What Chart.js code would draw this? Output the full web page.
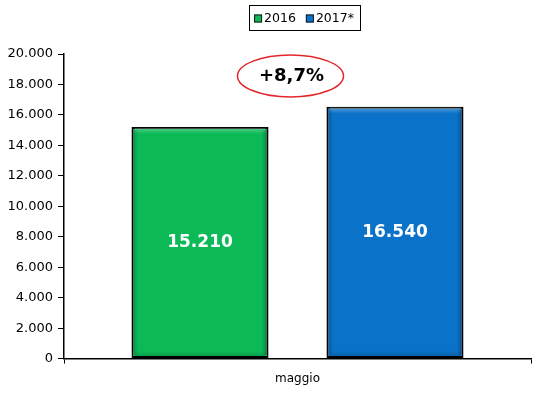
<!DOCTYPE html>
<html>
<head>
<meta charset="utf-8">
<script src="https://cdn.jsdelivr.net/npm/chart.js@4"></script>
<style>
  html, body { margin: 0; padding: 0; background: #fff; }
  #wrap { width: 538px; height: 402px; }
</style>
</head>
<body>
<div id="wrap"><canvas id="chart"></canvas></div>
<script>
const categories = ["maggio"];
const seriesNames = ["2016", "2017*"];
const values2016 = [15210];
const values2017 = [16540];
const seriesColors = ["#0bba57", "#0a72c8"];
const yTicks = [0, 2000, 4000, 6000, 8000, 10000, 12000, 14000, 16000, 18000, 20000];

const FONT = "'DejaVu Sans', Verdana, sans-serif";

function fmt(n) {
  return String(n).replace(/\B(?=(\d{3})+(?!\d))/g, ".");
}

// legend with a frame, drawn at the top centre
const legendBox = {
  id: "legendBox",
  afterDraw(chart) {
    const ctx = chart.ctx;
    ctx.save();
    ctx.font = "12.5px " + FONT;
    const sets = chart.data.datasets;
    const widths = sets.map((d) => 9 + 2 + ctx.measureText(d.label).width);
    const gap = 9;
    const inner = widths.reduce((a, b) => a + b, 0) + gap * (sets.length - 1);
    const boxW = 111, boxH = 25;
    const left = 249, top = 5;
    ctx.strokeStyle = "#000";
    ctx.lineWidth = 1;
    ctx.strokeRect(left + 0.5, top + 0.5, boxW, boxH);
    let x = left + (boxW - inner) / 2;
    const cy = top + boxH / 2 + 1;
    sets.forEach((d, i) => {
      ctx.fillStyle = d.backgroundColor;
      ctx.fillRect(x, cy - 4, 8, 8);
      ctx.strokeStyle = "#1a1a1a";
      ctx.strokeRect(x + 0.5, cy - 3.5, 7, 7);
      ctx.fillStyle = "#000";
      ctx.textBaseline = "middle";
      ctx.fillText(d.label, x + 10, cy);
      x += widths[i] + gap;
    });
    ctx.restore();
  }
};

// bevelled look on the bars plus the white value in the middle
const barDecor = {
  id: "barDecor",
  afterDatasetsDraw(chart) {
    const ctx = chart.ctx;
    ctx.save();
    chart.data.datasets.forEach((d, di) => {
      chart.getDatasetMeta(di).data.forEach((bar, i) => {
        const l = bar.x - bar.width / 2 + 1;
        const r = bar.x + bar.width / 2 - 1;
        const t = bar.y + 1;
        const b = bar.base - 1;
        const s = 6;
        let g = ctx.createLinearGradient(0, t, 0, t + s);
        g.addColorStop(0, "rgba(255,255,255,0.3)");
        g.addColorStop(1, "rgba(255,255,255,0)");
        ctx.fillStyle = g;
        ctx.fillRect(l + 2, t, r - l - 4, s);
        g = ctx.createLinearGradient(l, 0, l + s, 0);
        g.addColorStop(0, "rgba(0,0,0,0.22)");
        g.addColorStop(1, "rgba(0,0,0,0)");
        ctx.fillStyle = g;
        ctx.fillRect(l, t + 2, s, b - t - 4);
        g = ctx.createLinearGradient(r, 0, r - s, 0);
        g.addColorStop(0, "rgba(0,0,0,0.3)");
        g.addColorStop(1, "rgba(0,0,0,0)");
        ctx.fillStyle = g;
        ctx.fillRect(r - s, t + 2, s, b - t - 4);
        g = ctx.createLinearGradient(0, b, 0, b - s);
        g.addColorStop(0, "rgba(0,0,0,0.18)");
        g.addColorStop(1, "rgba(0,0,0,0)");
        ctx.fillStyle = g;
        ctx.fillRect(l + 2, b - s, r - l - 4, s);

        ctx.fillStyle = "#fff";
        ctx.font = "bold 17px " + FONT;
        ctx.textAlign = "center";
        ctx.textBaseline = "middle";
        ctx.fillText(fmt(d.data[i]), bar.x, (bar.y + bar.base) / 2);
      });
    });
    ctx.restore();
  }
};

// red ellipse with the growth rate
const growthNote = {
  id: "growthNote",
  afterDraw(chart) {
    const ctx = chart.ctx;
    const pct = (values2017[0] / values2016[0] - 1) * 100;
    const text = "+" + pct.toFixed(1).replace(".", ",") + "%";
    const cx = chart.scales.x.getPixelForValue(0) - 7;
    const cy = chart.scales.y.getPixelForValue(18560);
    ctx.save();
    ctx.beginPath();
    ctx.ellipse(cx, cy, 53, 21, 0, 0, Math.PI * 2);
    ctx.strokeStyle = "#e3262b";
    ctx.lineWidth = 1.5;
    ctx.stroke();
    ctx.fillStyle = "#000";
    ctx.font = "bold 18px " + FONT;
    ctx.textAlign = "center";
    ctx.textBaseline = "middle";
    ctx.fillText(text, cx + 1, cy);
    ctx.restore();
  }
};

new Chart(document.getElementById("chart"), {
  type: "bar",
  data: {
    labels: categories,
    datasets: [
      { label: seriesNames[0], data: values2016, backgroundColor: seriesColors[0] },
      { label: seriesNames[1], data: values2017, backgroundColor: seriesColors[1] }
    ].map((d) => ({
      ...d,
      borderColor: "#000",
      borderWidth: 2,
      borderSkipped: false,
      categoryPercentage: 0.835,
      barPercentage: 0.703
    }))
  },
  options: {
    responsive: true,
    maintainAspectRatio: false,
    animation: false,
    layout: { padding: { top: 54, left: 4, right: 7, bottom: 8 } },
    plugins: {
      legend: { display: false },
      tooltip: { enabled: false }
    },
    scales: {
      x: {
        grid: { drawOnChartArea: false, color: "#000", tickLength: 5 },
        border: { color: "#000", width: 1.5 },
        ticks: { color: "#000", font: { family: FONT, size: 12 }, padding: 8 }
      },
      y: {
        min: 0,
        max: 20000,
        afterBuildTicks: (scale) => {
          scale.ticks = yTicks.map((v) => ({ value: v }));
        },
        afterFit: (scale) => {
          scale.width = 60;
        },
        grid: { drawOnChartArea: false, color: "#000", tickLength: 6 },
        border: { color: "#000", width: 1.5 },
        ticks: {
          color: "#000",
          font: { family: FONT, size: 13 },
          padding: 5,
          callback: (v) => fmt(v)
        }
      }
    }
  },
  plugins: [legendBox, barDecor, growthNote]
});
</script>
</body>
</html>
